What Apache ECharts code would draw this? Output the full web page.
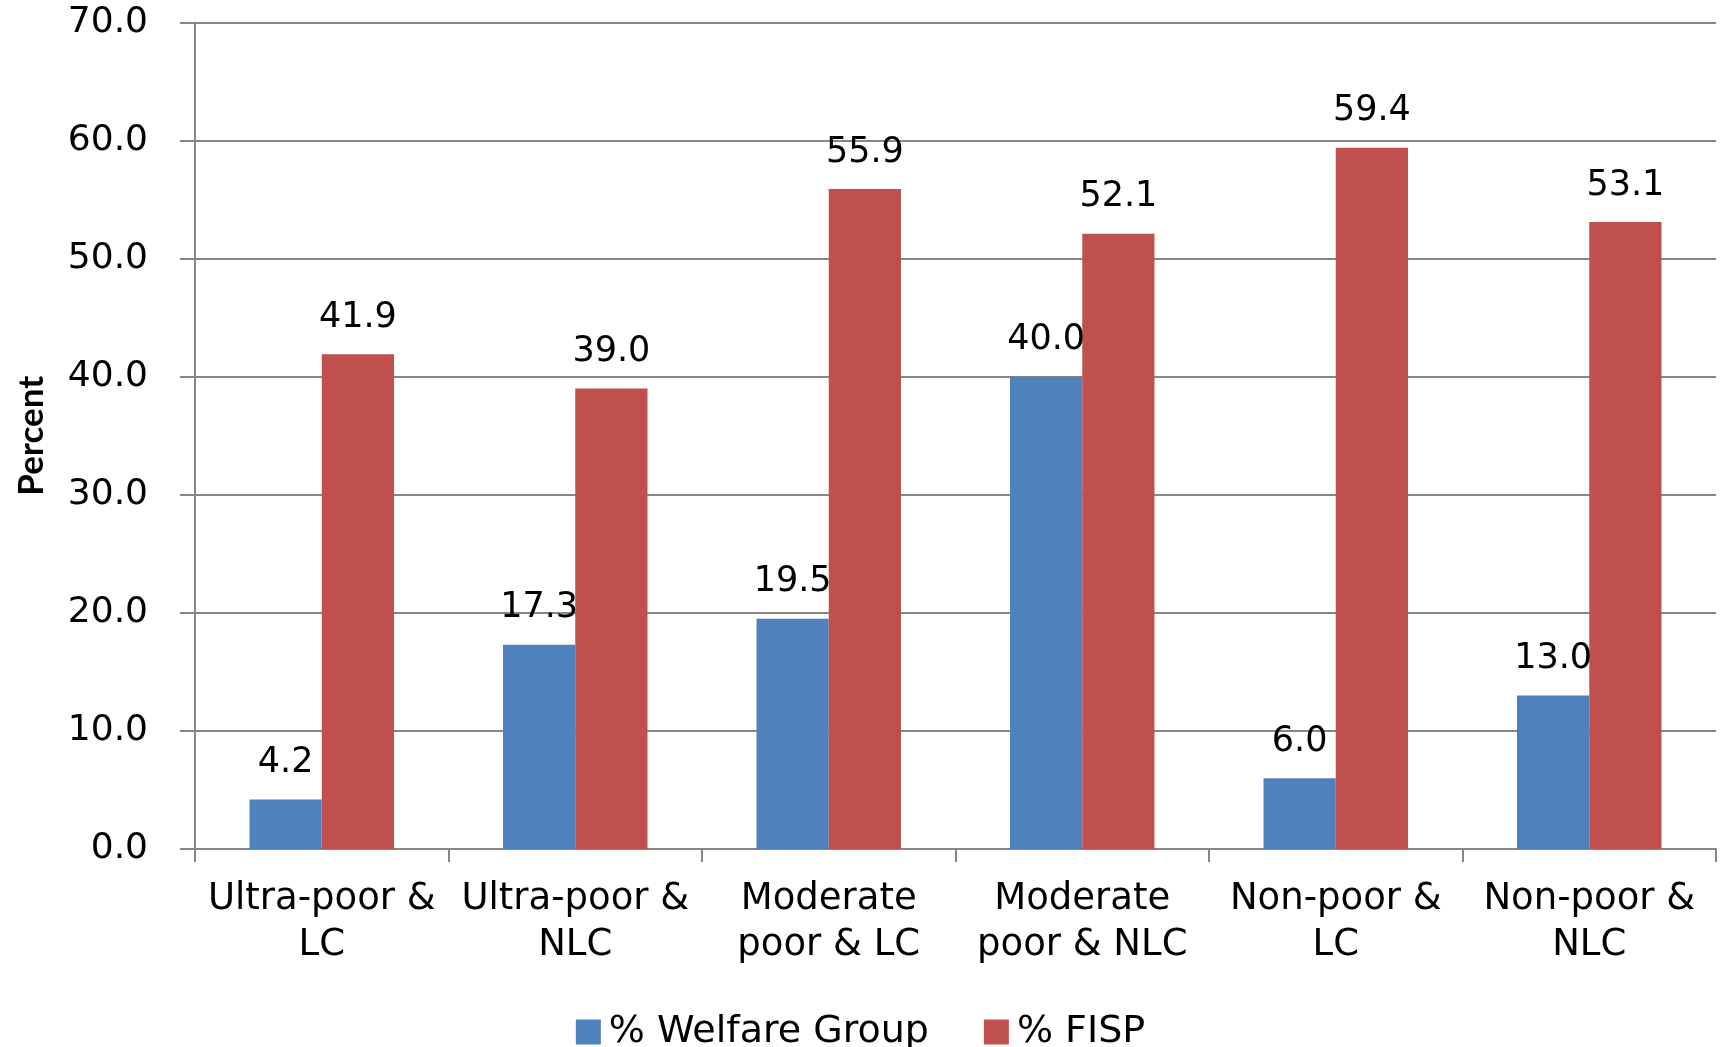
<!DOCTYPE html>
<html>
<head>
<meta charset="utf-8">
<script src="https://cdn.jsdelivr.net/npm/echarts@6/dist/echarts.min.js"></script>
<style>
  html, body { margin: 0; padding: 0; background: #ffffff; }
  #chart { width: 1721px; height: 1047px; }
</style>
</head>
<body>
<div id="chart"></div>
<script>
// Welfare group shares vs. FISP participation by poverty / labour-constraint group
const categories = [
  'Ultra-poor &\nLC',
  'Ultra-poor &\nNLC',
  'Moderate\npoor & LC',
  'Moderate\npoor & NLC',
  'Non-poor &\nLC',
  'Non-poor &\nNLC'
];
const welfareGroup = [4.2, 17.3, 19.5, 40.0, 6.0, 13.0];
const fisp = [41.9, 39.0, 55.9, 52.1, 59.4, 53.1];
const seriesNames = ['% Welfare Group', '% FISP'];

const FONT = '"DejaVu Sans", Verdana, sans-serif';
const GRAY = '#878787';

const chart = echarts.init(document.getElementById('chart'), null, { renderer: 'canvas' });

const valueLabel = {
  show: true,
  position: 'top',
  distance: 19,
  color: '#000',
  fontFamily: FONT,
  fontSize: 35,
  formatter: p => p.value.toFixed(1)
};

chart.setOption({
  animation: false,
  backgroundColor: '#ffffff',
  grid: {
    left: 195, right: 5, top: 22.5, bottom: 198,
    containLabel: false,
    outerBoundsMode: 'none'
  },
  legend: {
    data: seriesNames,
    left: 'center',
    top: 1008,
    itemWidth: 25,
    itemHeight: 25,
    itemGap: 55,
    icon: 'rect',
    textStyle: { fontFamily: FONT, fontSize: 38, color: '#000', padding: [0, 0, 0, 3] }
  },
  xAxis: {
    type: 'category',
    data: categories,
    axisLine: { lineStyle: { color: GRAY, width: 2 } },
    axisTick: { show: true, alignWithLabel: false, length: 13, lineStyle: { color: GRAY, width: 2 } },
    axisLabel: {
      interval: 0,
      margin: 27,
      color: '#000',
      fontFamily: FONT,
      fontSize: 37,
      lineHeight: 46
    }
  },
  yAxis: {
    type: 'value',
    min: 0,
    max: 70,
    interval: 10,
    name: 'Percent',
    nameLocation: 'middle',
    nameGap: 146,
    nameRotate: 90,
    nameTextStyle: {
      fontFamily: 'Lato, "Liberation Sans", sans-serif',
      fontWeight: 'bold',
      fontSize: 35,
      color: '#000'
    },
    axisLine: { show: true, lineStyle: { color: GRAY, width: 2 } },
    axisTick: { show: true, length: 15, lineStyle: { color: GRAY, width: 2 } },
    splitLine: { show: true, lineStyle: { color: GRAY, width: 2 } },
    axisLabel: {
      margin: 47,
      color: '#000',
      fontFamily: FONT,
      fontSize: 36,
      formatter: v => v.toFixed(1)
    }
  },
  series: [
    {
      name: seriesNames[0],
      type: 'bar',
      data: welfareGroup,
      barGap: '0%',
      barCategoryGap: '43%',
      itemStyle: { color: '#4F81BD' },
      label: valueLabel
    },
    {
      name: seriesNames[1],
      type: 'bar',
      data: fisp,
      barGap: '0%',
      barCategoryGap: '43%',
      itemStyle: { color: '#C0504D' },
      label: valueLabel
    }
  ]
});
</script>
</body>
</html>
